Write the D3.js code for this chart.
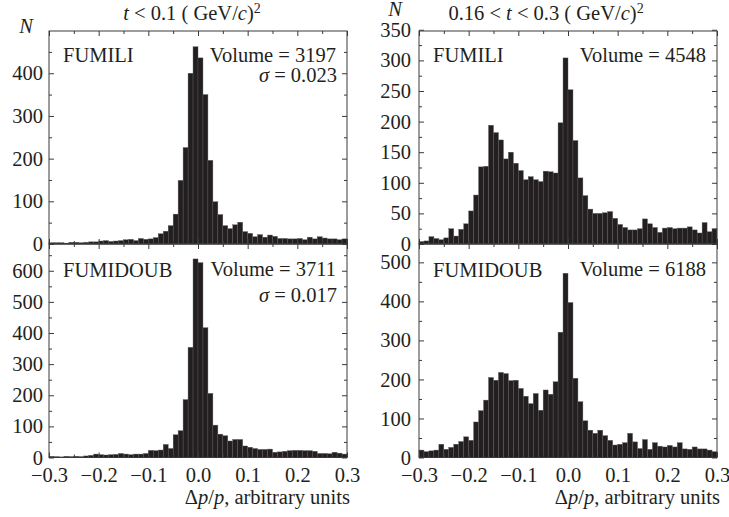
<!DOCTYPE html>
<html>
<head>
<meta charset="utf-8">
<script src="https://cdn.jsdelivr.net/npm/d3@7"></script>
<style>
  body { margin: 0; background: #fff; }
  svg text { font-family: "Liberation Serif", "Times New Roman", Tinos, Times, "DejaVu Serif", serif; fill: #231f20; }
</style>
</head>
<body>
<svg width="729" height="517"></svg>
<script>
var svg = d3.select("svg");

// histogram bins: lower edge of each bin in dp/p, width 0.01
var binEdges = d3.range(60).map(function(i) { return Math.round((-0.3 + i * 0.01) * 100) / 100; });
var binWidth = 0.01;

// counts
var fumiliLowT = [3,3,3,2,4,4,3,4,5,5, 7,8,6,7,8,10,11,8,13,11,
  12,15,24,30,43,70,149,226,400,462, 436,350,196,99,69,43,36,45,51,29,
  25,17,22,16,21,18,13,13,12,12, 13,10,16,12,17,14,12,12,10,12];
var fumidoubLowT = [4,3,2,4,3,4,3,5,7,11, 9,8,9,10,13,11,9,11,11,13,
  23,22,24,42,29,73,86,186,354,638, 626,417,206,104,75,70,53,58,58,37,
  33,29,26,26,27,17,18,20,22,23, 23,22,22,20,13,13,12,17,14,11];
var fumiliHighT = [4,5,12,9,7,10,25,13,24,33, 54,80,126,127,194,182,170,139,150,132,
  120,105,110,105,102,119,118,116,198,304, 252,169,108,79,57,50,50,51,53,42,
  32,27,23,23,25,41,33,27,19,26, 27,25,26,26,28,23,18,35,20,25];
var fumidoubHighT = [19,15,17,19,34,21,26,34,41,53, 44,91,120,147,205,198,218,215,197,198,
  177,157,138,164,121,173,162,194,321,472, 397,203,143,94,70,62,70,56,44,32,
  34,38,62,40,23,46,21,38,29,27, 31,27,38,22,21,27,22,22,19,15];

var xMajor = [-0.3, -0.2, -0.1, 0, 0.1, 0.2, 0.3];
var xMinor = [-0.25, -0.15, -0.05, 0.05, 0.15, 0.25];
var xTickLabels = ["\u22120.3", "\u22120.2", "\u22120.1", "0.0", "0.1", "0.2", "0.3"];

var panels = [
  { x0: 49, x1: 347, y0: 31, y1: 244, ymax: 499, data: fumiliLowT, method: "FUMILI", volume: "3197", sigma: "0.023",
    major: [0,100,200,300,400], minor: [50,150,250,350,450], pad: 6, bottom: false },
  { x0: 49, x1: 347, y0: 244, y1: 457.5, ymax: 686, data: fumidoubLowT, method: "FUMIDOUB", volume: "3711", sigma: "0.017",
    major: [0,100,200,300,400,500,600], minor: [50,150,250,350,450,550,650], pad: 6, bottom: true },
  { x0: 419, x1: 717, y0: 31, y1: 244, ymax: 348, data: fumiliHighT, method: "FUMILI", volume: "4548", sigma: null,
    major: [0,50,100,150,200,250,300,350], minor: [25,75,125,175,225,275,325], pad: 8, bottom: false },
  { x0: 419, x1: 717, y0: 244, y1: 457.5, ymax: 547, data: fumidoubHighT, method: "FUMIDOUB", volume: "6188", sigma: null,
    major: [0,100,200,300,400,500], minor: [50,150,250,350,450], pad: 8, bottom: true }
];

var fs = 20.5;
var serif = "'Liberation Serif', 'Times New Roman', Tinos, Times, 'DejaVu Serif', serif";

panels.forEach(function(p) {
  var x = d3.scaleLinear().domain([-0.3, 0.3]).range([p.x0, p.x1]);
  var y = d3.scaleLinear().domain([0, p.ymax]).range([p.y1, p.y0]);
  var g = svg.append("g");

  g.selectAll("rect.bar")
    .data(p.data)
    .enter()
    .append("rect")
    .attr("class", "bar")
    .attr("x", function(d, i) { return x(binEdges[i]); })
    .attr("width", function(d, i) { return x(binEdges[i] + binWidth) - x(binEdges[i]); })
    .attr("y", function(d) { return y(d); })
    .attr("height", function(d) { return y(0) - y(d); })
    .style("fill", "#231f20")
    .style("stroke", "#5c5a5a")
    .style("stroke-width", 0.4);

  function axis(gen, tr, vals, size, fmt, pad) {
    var a = g.append("g").attr("transform", tr)
      .call(gen.tickValues(vals).tickSize(-size).tickSizeOuter(0).tickPadding(pad || 3).tickFormat(fmt || ""));
    a.select(".domain").remove();
    a.attr("font-family", null).attr("font-size", null);
    a.selectAll("line").style("stroke", "#3a3a3a").style("stroke-width", 1);
    a.selectAll("text").style("font-size", fs + "px").style("font-family", serif).style("fill", "#231f20");
    return a;
  }

  // y axes, ticks inward
  axis(d3.axisLeft(y), "translate(" + p.x0 + ",0)", p.major, 5, d3.format("d"), p.pad);
  axis(d3.axisLeft(y), "translate(" + p.x0 + ",0)", p.minor, 3);
  axis(d3.axisRight(y), "translate(" + p.x1 + ",0)", p.major, 5);
  axis(d3.axisRight(y), "translate(" + p.x1 + ",0)", p.minor, 3);
  // x axes
  axis(d3.axisTop(x), "translate(0," + p.y0 + ")", xMajor, 5);
  axis(d3.axisTop(x), "translate(0," + p.y0 + ")", xMinor, 3);
  axis(d3.axisBottom(x), "translate(0," + p.y1 + ")", xMajor, 5,
    p.bottom ? function(d, i) { return xTickLabels[i]; } : "", 9.5);
  axis(d3.axisBottom(x), "translate(0," + p.y1 + ")", xMinor, 3);

  g.append("rect")
    .attr("x", p.x0).attr("y", p.y0)
    .attr("width", p.x1 - p.x0).attr("height", p.y1 - p.y0)
    .style("fill", "none").style("stroke", "#3a3a3a").style("stroke-width", 1);

  var top = p.y0 + 31;
  g.append("text").attr("x", p.x0 + 14).attr("y", top + (p.bottom ? 2 : 0))
    .style("font-size", fs + "px").style("font-family", serif).text(p.method);
  g.append("text").attr("x", p.x1 - 11).attr("y", top + (p.bottom ? 1 : 0))
    .attr("text-anchor", "end").style("font-size", fs + "px").style("font-family", serif).text("Volume = " + p.volume);
  if (p.sigma) {
    var s = g.append("text").attr("x", p.x1 - 10).attr("y", top + (p.bottom ? 27 : 20))
      .attr("text-anchor", "end").style("font-size", fs + "px").style("font-family", serif);
    s.append("tspan").style("font-style", "italic").text("\u03c3");
    s.append("tspan").text(" = " + p.sigma);
  }
});

// titles
function title(xc, prefix, tail) {
  var t = svg.append("text").attr("x", xc).attr("y", 20).attr("text-anchor", "middle")
    .style("font-size", fs + "px").style("font-family", serif);
  if (prefix) t.append("tspan").text(prefix);
  t.append("tspan").style("font-style", "italic").text("t");
  t.append("tspan").text(tail + " ( GeV/");
  t.append("tspan").style("font-style", "italic").text("c");
  t.append("tspan").text(")");
  t.append("tspan").attr("dy", -7).style("font-size", "14px").text("2");
}
title(192, "", " < 0.1");
title(546, "0.16 < ", " < 0.3");

svg.append("text").attr("x", 26).attr("y", 33).attr("text-anchor", "middle")
  .style("font-size", fs + "px").style("font-family", serif).style("font-style", "italic").text("N");
svg.append("text").attr("x", 395).attr("y", 16).attr("text-anchor", "middle")
  .style("font-size", fs + "px").style("font-family", serif).style("font-style", "italic").text("N");

// x axis captions
[347, 717].forEach(function(xr) {
  var c = svg.append("text").attr("x", xr + 3).attr("y", 504).attr("text-anchor", "end")
    .style("font-size", fs + "px").style("font-family", serif);
  c.append("tspan").text("\u0394");
  c.append("tspan").style("font-style", "italic").text("p");
  c.append("tspan").text("/");
  c.append("tspan").style("font-style", "italic").text("p");
  c.append("tspan").text(", arbitrary units");
});
</script>
</body>
</html>
